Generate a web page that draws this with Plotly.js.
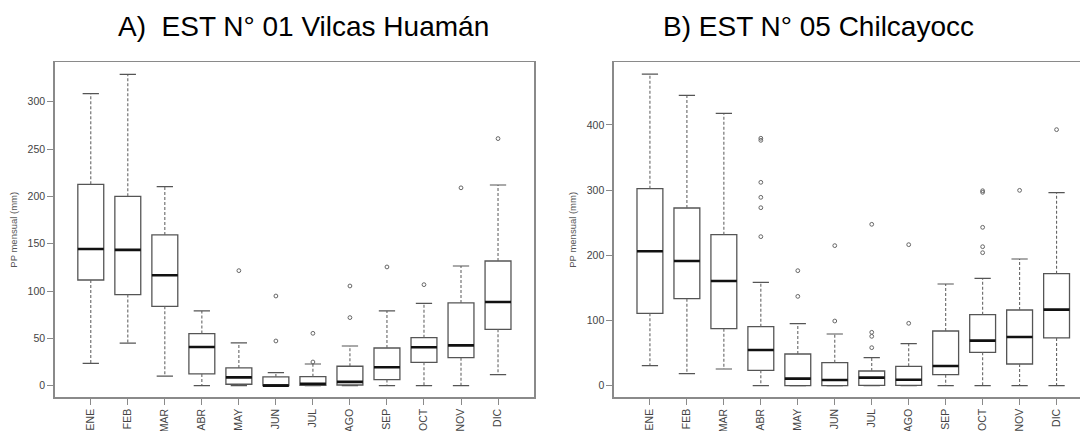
<!DOCTYPE html>
<html>
<head>
<meta charset="utf-8">
<script src="https://cdn.plot.ly/plotly-3.0.1.min.js"></script>
<style>
  html, body { margin:0; padding:0; background:#fff; overflow:hidden; }
  #chart { width:1100px; height:431px; }
</style>
</head>
<body>
<div id="chart"></div>
<script>
// ---------- DATA ----------
const months = ['ENE','FEB','MAR','ABR','MAY','JUN','JUL','AGO','SEP','OCT','NOV','DIC'];

// Panel A: EST N° 01 Vilcas Huamán
const aLow  = [23.6, 45.0, 10.0, 0, 0, 0, 0, 0, 0, 0, 0, 11.7];
const aQ1   = [111.6, 96.2, 83.8, 12.4, 1.5, 0, 0.3, 0.7, 6.4, 24.7, 29.6, 59.5];
const aMed  = [144.4, 143.4, 116.6, 40.9, 8.8, 0, 2.0, 4.0, 19.4, 40.5, 42.6, 88.4];
const aQ3   = [212.7, 200.0, 159.2, 55.0, 18.7, 9.2, 9.5, 20.5, 39.8, 50.7, 87.4, 131.7];
const aHigh = [308.5, 328.9, 210.2, 78.9, 45.1, 13.8, 22.9, 41.9, 78.9, 87.0, 126.4, 212.0];
const aOutMonth = ['MAY','JUN','JUN','JUL','JUL','AGO','AGO','SEP','OCT','NOV','DIC'];
const aOutValue = [121.5, 47.2, 94.7, 25.0, 55.3, 71.9, 105.3, 125.4, 106.7, 209.0, 261.0];

// Panel B: EST N° 05 Chilcayocc
const bLow  = [30.7, 18.5, 25.6, 0, 0, 0, 0, 0, 0, 0, 0, 0];
const bQ1   = [111.0, 133.5, 87.5, 23.6, 0, 0, 0.5, 0.5, 16.9, 51.2, 33.3, 73.2];
const bMed  = [206.1, 191.3, 160.6, 54.8, 10.8, 8.7, 12.3, 9.2, 30.2, 69.1, 74.7, 116.6];
const bQ3   = [302.2, 272.5, 231.6, 90.5, 48.6, 35.3, 22.5, 29.7, 83.9, 108.9, 116.1, 171.8];
const bHigh = [478.0, 445.3, 417.7, 158.5, 95.1, 79.3, 43.0, 64.5, 156.0, 164.7, 194.3, 296.0];
const bOutMonth = ['ABR','ABR','ABR','ABR','ABR','ABR','MAY','MAY','JUN','JUN','JUL','JUL','JUL','JUL','AGO','AGO','OCT','OCT','OCT','OCT','OCT','NOV','DIC'];
const bOutValue = [228.6, 273.0, 288.9, 311.9, 376.3, 379.5, 137.0, 176.4, 99.2, 214.8, 58.3, 75.7, 81.9, 247.5, 95.7, 216.3, 204.0, 213.2, 242.9, 296.6, 299.0, 299.6, 392.7];

const titleA = 'A)\u00a0\u00a0EST N° 01 Vilcas Huamán';
const titleB = 'B) EST N° 05 Chilcayocc';
const yTitle = 'PP mensual (mm)';

// ---------- STYLE ----------
const BOX_W = 0.70, CAP_W = 0.44;
const boxColor = '#555555', frameColor = '#8a8a8a', textColor = '#444444';
const pos = months.map((m, i) => i + 1);

function panelTraces(xa, ya, low, q1, med, q3, high, outM, outV) {
  const traces = [];
  // boxes (quartiles) via the library's box trace
  traces.push({
    type: 'box', xaxis: xa, yaxis: ya, x: pos,
    q1: q1, median: med, q3: q3, lowerfence: q1, upperfence: q3,
    width: BOX_W, whiskerwidth: 0, boxpoints: false,
    fillcolor: 'rgba(255,255,255,0)', line: { color: boxColor, width: 1.3 },
    showlegend: false, hoverinfo: 'skip'
  });
  // dashed whiskers
  const wx = [], wy = [];
  pos.forEach((p, i) => { wx.push(p, p, null, p, p, null); wy.push(q3[i], high[i], null, q1[i], low[i], null); });
  traces.push({ type: 'scatter', mode: 'lines', xaxis: xa, yaxis: ya, x: wx, y: wy,
    line: { color: '#666666', width: 1.1, dash: '3px,2px' }, showlegend: false, hoverinfo: 'skip' });
  // caps
  const cx = [], cy = [];
  pos.forEach((p, i) => {
    cx.push(p - CAP_W / 2, p + CAP_W / 2, null, p - CAP_W / 2, p + CAP_W / 2, null);
    cy.push(high[i], high[i], null, low[i], low[i], null);
  });
  traces.push({ type: 'scatter', mode: 'lines', xaxis: xa, yaxis: ya, x: cx, y: cy,
    line: { color: '#555555', width: 1.2 }, showlegend: false, hoverinfo: 'skip' });
  // medians (thick)
  const mx = [], my = [];
  pos.forEach((p, i) => { mx.push(p - BOX_W / 2, p + BOX_W / 2, null); my.push(med[i], med[i], null); });
  traces.push({ type: 'scatter', mode: 'lines', xaxis: xa, yaxis: ya, x: mx, y: my,
    line: { color: '#111111', width: 2.6 }, showlegend: false, hoverinfo: 'skip' });
  // outliers
  traces.push({ type: 'scatter', mode: 'markers', xaxis: xa, yaxis: ya,
    x: outM.map(m => months.indexOf(m) + 1), y: outV,
    marker: { symbol: 'circle-open', size: 3.8, color: '#666666', line: { width: 1 } },
    showlegend: false, hoverinfo: 'skip' });
  return traces;
}

const data = [].concat(
  panelTraces('x', 'y', aLow, aQ1, aMed, aQ3, aHigh, aOutMonth, aOutValue),
  panelTraces('x2', 'y2', bLow, bQ1, bMed, bQ3, bHigh, bOutMonth, bOutValue)
);

const W = 1100, H = 431;
const xCommon = {
  range: [0.02, 12.98], tickmode: 'array', tickvals: pos, ticktext: months,
  tickangle: -90, ticks: 'outside', ticklen: 6, tickcolor: frameColor, tickwidth: 1,
  tickfont: { size: 10.5, color: textColor },
  showline: true, mirror: true, linecolor: frameColor, linewidth: 1.3,
  showgrid: false, zeroline: false, fixedrange: true
};
const yCommon = {
  ticks: 'outside', ticklen: 6, tickcolor: frameColor, tickwidth: 1,
  tickfont: { size: 10.5, color: textColor },
  showline: true, mirror: true, linecolor: frameColor, linewidth: 1.3,
  showgrid: false, zeroline: false, fixedrange: true,
  domain: [1 - 397.3 / H, 1 - 62.3 / H]
};

const layout = {
  width: W, height: H,
  margin: { l: 0, r: 0, t: 0, b: 0 },
  paper_bgcolor: '#ffffff', plot_bgcolor: '#ffffff',
  font: { family: 'Liberation Sans, Arial, sans-serif', color: textColor },
  showlegend: false,
  xaxis: Object.assign({}, xCommon, { domain: [54.5 / W, 534.3 / W], anchor: 'y' }),
  xaxis2: Object.assign({}, xCommon, { domain: [613.7 / W, 1092.8 / W], anchor: 'y2' }),
  yaxis: Object.assign({}, yCommon, { anchor: 'x', range: [-12.3, 341.6],
    tickvals: [0, 50, 100, 150, 200, 250, 300],
    title: { text: yTitle, font: { size: 9.5, color: '#555555' }, standoff: 8 } }),
  yaxis2: Object.assign({}, yCommon, { anchor: 'x2', range: [-17.8, 496],
    tickvals: [0, 100, 200, 300, 400],
    title: { text: yTitle, font: { size: 9.5, color: '#555555' }, standoff: 8 } }),
  annotations: [
    { text: titleA, xref: 'paper', yref: 'paper', x: 303.3 / W, y: 1 - 26.5 / H,
      xanchor: 'center', yanchor: 'middle', showarrow: false,
      font: { size: 28, color: '#000000', family: 'Liberation Sans, Arial, sans-serif' } },
    { text: titleB, xref: 'paper', yref: 'paper', x: 818.3 / W, y: 1 - 26.5 / H,
      xanchor: 'center', yanchor: 'middle', showarrow: false,
      font: { size: 28, color: '#000000', family: 'Liberation Sans, Arial, sans-serif' } }
  ]
};

Plotly.newPlot('chart', data, layout, { displayModeBar: false, staticPlot: true });
</script>
</body>
</html>
